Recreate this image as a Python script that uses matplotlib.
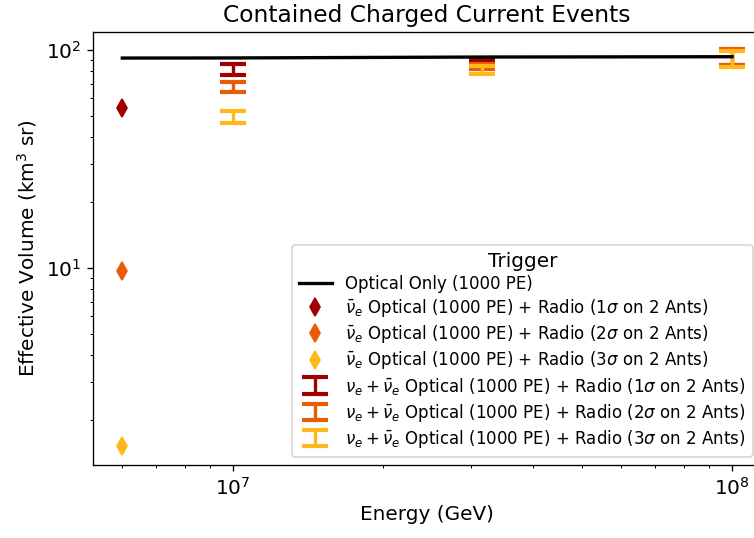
import matplotlib
matplotlib.use("Agg")
import matplotlib.pyplot as plt
import numpy as np

# optical only trigger
optical_energy = [6e6, 1e7, 3.16e7, 1e8]
optical_veff = [91.9, 92.0, 92.9, 93.2]

# nu_e bar points (Glashow energy)
nubar_energy = [6e6]
nubar_1sig = [54.2]
nubar_2sig = [9.7]
nubar_3sig = [1.53]

# nu_e + nu_e bar ranges
range_energy = [1e7, 3.16e7, 1e8]
low_1sig = [76.8, 84.5, 85.5]
high_1sig = [85.9, 90.0, 100.5]
low_2sig = [64.3, 81.8, 85.3]
high_2sig = [71.5, 86.2, 101.0]
low_3sig = [46.1, 77.6, 83.6]
high_3sig = [52.5, 84.5, 99.0]

colors = ['#a00000', '#e85d04', '#ffb81c']

fig = plt.figure(figsize=(754/120, 538/120), dpi=120)
# axes run slightly past the right edge of the figure, as in the original crop
ax = fig.add_axes([0.1233, 0.1357, 0.886, 0.8048])

ax.plot(optical_energy, optical_veff, color='black', lw=2, zorder=5,
        label='Optical Only (1000 PE)')

for vals, c, s in zip([nubar_1sig, nubar_2sig, nubar_3sig], colors, ['1', '2', '3']):
    ax.plot(nubar_energy, vals, 'd', color=c, ms=7.5, ls='none',
            label=r'$\bar{\nu}_e$ Optical (1000 PE) + Radio (' + s + r'$\sigma$ on 2 Ants)')

for lo, hi, c, s in zip([low_1sig, low_2sig, low_3sig], [high_1sig, high_2sig, high_3sig],
                        colors, ['1', '2', '3']):
    lo = np.array(lo)
    hi = np.array(hi)
    mid = np.sqrt(lo * hi)
    ax.errorbar(range_energy, mid, yerr=[mid - lo, hi - mid], fmt='none', ecolor=c,
                elinewidth=2, capsize=8, capthick=2.5,
                label=r'$\nu_e + \bar{\nu}_e$ Optical (1000 PE) + Radio (' + s + r'$\sigma$ on 2 Ants)')

ax.set_xscale('log')
ax.set_yscale('log')
ax.set_xlim(5.24e6, 1.143e8)
ax.set_ylim(1.248, 121)
ax.tick_params(labelsize=12)
ax.set_xlabel('Energy (GeV)', fontsize=12)
ax.set_ylabel(r'Effective Volume (km$^3$ sr)', fontsize=12)
ax.set_title('Contained Charged Current Events', fontsize=14)
ax.legend(title='Trigger', title_fontsize=12, loc='lower right', labelspacing=0.25)

fig.savefig('out.png', dpi=120)
